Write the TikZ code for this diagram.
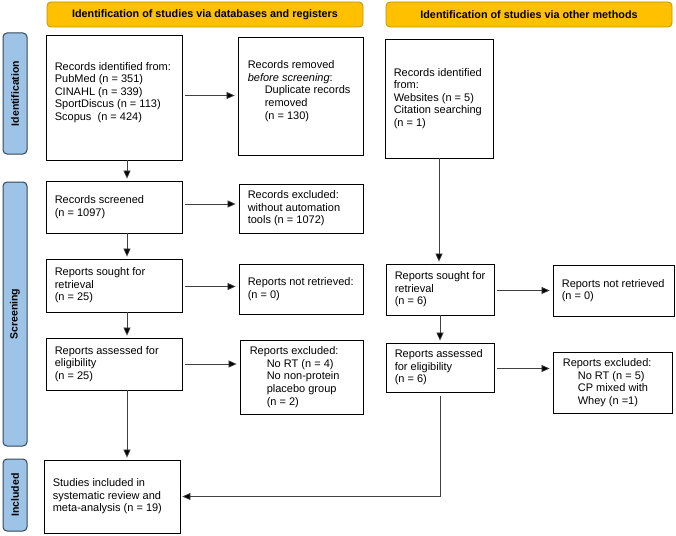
\documentclass[tikz,border=0pt]{standalone}
\usepackage{fontspec}
\setmainfont{Liberation Sans}
\usetikzlibrary{arrows.meta}
\definecolor{bannerfill}{HTML}{FFC000}
\definecolor{bannerdraw}{HTML}{C09010}
\definecolor{sidefill}{HTML}{9DC3E6}
\definecolor{sidedraw}{HTML}{33475B}
\definecolor{linecol}{HTML}{404040}
\tikzset{
  box/.style={draw=black, line width=0.8pt, inner sep=0pt},
  txt/.style={anchor=west, align=left, inner sep=0pt, font=\fontsize{11}{12.6}\selectfont},
  banner/.style={draw=bannerdraw, fill=bannerfill, line width=0.8pt, rounded corners=4pt,
    font=\fontsize{10.8}{13}\selectfont\bfseries, inner sep=0pt},
  side/.style={draw=sidedraw, fill=sidefill, line width=1pt, rounded corners=4pt,
    font=\fontsize{10.5}{12}\selectfont\bfseries, inner sep=0pt, rotate=90},
  conn/.style={draw=linecol, line width=0.7pt, shorten >=2pt,
    -{Triangle[length=8pt,width=7pt,fill=black]}},
  hconn/.style={conn, shorten <=3pt, shorten >=3pt}
}
\begin{document}
\begin{tikzpicture}[x=1pt,y=-1pt]
\useasboundingbox[fill=white] (0,0) rectangle (676,535);

% banners
\node[banner, minimum width=316pt, minimum height=25pt] (banL) at (205,14.5)
  {Identification of studies via databases and registers};
\node[banner, minimum width=286pt, minimum height=25pt] (banR) at (529,14.5)
  {Identification of studies via other methods};

% side labels
\node[side, minimum width=121pt, minimum height=24pt] (sideI) at (15,93.5) {Identification};
\node[side, minimum width=264pt, minimum height=24pt] (sideS) at (15,314) {Screening};
\node[side, minimum width=72pt, minimum height=24pt] (sideN) at (15,495) {Included};

% left column boxes
\node[box, minimum width=136pt, minimum height=125pt] (b1) at (114,97.5) {};
\node[box, minimum width=136pt, minimum height=52pt] (scr) at (114,207) {};
\node[box, minimum width=136pt, minimum height=53pt] (sou) at (114,285.5) {};
\node[box, minimum width=136pt, minimum height=52pt] (ass) at (114,364) {};
\node[box, minimum width=136pt, minimum height=73pt] (inc) at (112,496.5) {};
% middle column boxes
\node[box, minimum width=125pt, minimum height=118pt] (rem) at (300.5,96) {};
\node[box, minimum width=124pt, minimum height=49pt] (exc) at (301,208.5) {};
\node[box, minimum width=124pt, minimum height=50pt] (nre) at (301,289) {};
\node[box, minimum width=123pt, minimum height=74pt] (rex) at (301.5,377) {};
% right side boxes
\node[box, minimum width=108pt, minimum height=119pt] (ro) at (439,98.5) {};
\node[box, minimum width=108pt, minimum height=51pt] (rs) at (440,289.5) {};
\node[box, minimum width=108pt, minimum height=49pt] (ra) at (440,367.5) {};
\node[box, minimum width=121pt, minimum height=51pt] (rn) at (613.5,290.5) {};
\node[box, minimum width=119pt, minimum height=61pt] (rx) at (612.5,382.5) {};

% texts
\node[txt] (b1t) at ([xshift=9pt,yshift=5pt]b1.west)
  {Records identified from:\\PubMed (n = 351)\\CINAHL (n = 339)\\SportDiscus (n = 113)\\Scopus\ \ (n = 424)};
\node[txt] (scrt) at ([xshift=9pt]scr.west) {Records screened\\(n = 1097)};
\node[txt] (sout) at ([xshift=9pt]sou.west) {Reports sought for\\retrieval\\(n = 25)};
\node[txt] (asst) at ([xshift=9pt]ass.west) {Reports assessed for\\eligibility\\(n = 25)};
\node[txt] (inct) at ([xshift=9pt]inc.west) {Studies included in\\systematic review and\\meta-analysis (n = 19)};
\node[txt] (remt) at ([xshift=10pt,yshift=5pt]rem.west)
  {Records removed\\\textit{before screening}:\\\hspace*{17pt}Duplicate records\\\hspace*{17pt}removed\\\hspace*{17pt}(n = 130)};
\node[txt] (exct) at ([xshift=9pt]exc.west) {Records excluded:\\without automation\\tools (n = 1072)};
\node[txt] (nret) at ([xshift=9pt]nre.west) {Reports not retrieved:\\(n = 0)};
\node[txt] (rext) at ([xshift=10pt]rex.west)
  {Reports excluded:\\\hspace*{17pt}No RT (n = 4)\\\hspace*{17pt}No non-protein\\\hspace*{17pt}placebo group\\\hspace*{17pt}(n = 2)};
\node[txt] (rot) at ([xshift=9pt]ro.west) {Records identified\\from:\\Websites (n = 5)\\Citation searching\\(n = 1)};
\node[txt] (rst) at ([xshift=9pt]rs.west) {Reports sought for\\retrieval\\(n = 6)};
\node[txt] (rat) at ([xshift=9pt]ra.west) {Reports assessed\\for eligibility\\(n = 6)};
\node[txt] (rnt) at ([xshift=9pt]rn.west) {Reports not retrieved\\(n = 0)};
\node[txt] (rxt) at ([xshift=10pt]rx.west)
  {Reports excluded:\\\hspace*{15pt}No RT (n = 5)\\\hspace*{15pt}CP mixed with\\\hspace*{15pt}Whey (n =1)};

% connectors left
\draw[hconn] ([yshift=2pt]b1.east) -- ([yshift=2pt]b1.east -| rem.west);
\draw[hconn] ([yshift=3pt]scr.east) -- ([yshift=3pt]scr.east -| exc.west);
\draw[hconn] ([yshift=-1pt]sou.east) -- ([yshift=-1pt]sou.east -| nre.west);
\draw[hconn] (ass.east) -- (ass.east -| rex.west);
\draw[conn] ([xshift=13pt]b1.south) -- ([xshift=13pt]b1.south |- scr.north);
\draw[conn] ([xshift=13pt]scr.south) -- ([xshift=13pt]scr.south |- sou.north);
\draw[conn] ([xshift=13pt]sou.south) -- ([xshift=13pt]sou.south |- ass.north);
\draw[conn] ([xshift=13pt]ass.south) -- ([xshift=13pt]ass.south |- inc.north);

% connectors right
\draw[conn] (ro.south) -- (ro.south |- rs.north);
\draw[hconn] ([yshift=-1pt]rs.east) -- ([yshift=-1pt]rs.east -| rn.west);
\draw[conn] (rs.south) -- (rs.south |- ra.north);
\draw[hconn] ([yshift=-1pt]ra.east) -- ([yshift=-1pt]ra.east -| rx.west);
\draw[conn, shorten <=4pt] (ra.south) |- (inc.east);
\end{tikzpicture}
\end{document}
